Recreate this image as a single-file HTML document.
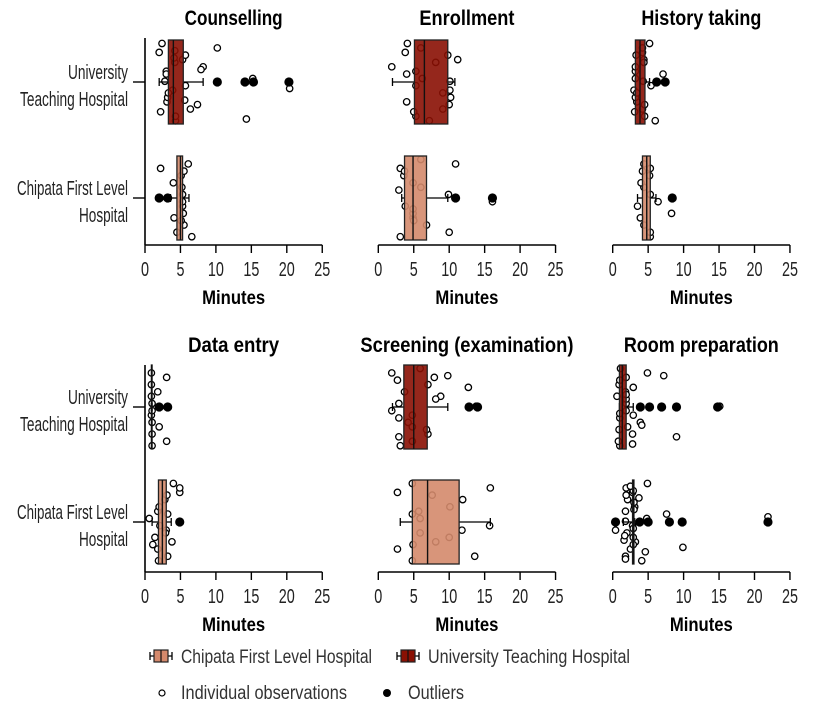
<!DOCTYPE html>
<html><head><meta charset="utf-8"><style>
body{margin:0;background:#fff}
svg{display:block;font-family:"Liberation Sans Narrow","Liberation Sans",sans-serif}
</style></head><body>
<svg id="c" width="815" height="709" viewBox="0 0 815 709"></svg>
<script>
const panelTitles=["Counselling","Enrollment","History taking","Data entry","Screening (examination)","Room preparation"];
const titleWidths=[98,95,120,91,213,155];
const groups=["University Teaching Hospital","Chipata First Level Hospital"];
const xTicks=[0,5,10,15,20,25];
// [q1, median, q3, whiskerLow, whiskerHigh] per panel: [UTH, Chipata]
const boxStats=[
 [[3.3,4.0,5.4,2.0,8.2],[4.5,5.0,5.3,3.6,6.2]],
 [[5.1,6.5,9.8,2.0,10.8],[3.7,4.9,6.8,3.3,9.8]],
 [[3.2,3.85,4.55,3.2,5.2],[4.2,4.8,5.3,3.5,6.1]],
 [[0.9,0.95,1.0,0.9,1.0],[1.9,2.45,3.0,1.0,3.7]],
 [[3.6,5.0,6.9,2.0,9.8],[4.8,6.95,11.4,3.1,15.8]],
 [[0.95,1.35,1.9,0.95,2.9],[2.8,2.9,3.0,1.5,3.1]]
];
const observations=[
 [[2,3.1,3,4.3,3.9,5.3,6.4,15.2,10.2,3.2,8.2,4.3,5.7,5.7,7.4,3,2.4,3.3,4.2,2.2,2.8,4.2,5.6,7.9,14.3,20.4,4.1],
  [2.2,4.1,5.2,6.6,5.3,5.1,5.5,5.3,6.1,5.4,4.0,4.5,5.3,5.5,5.1]],
 [[3.8,4.0,5.3,7.2,10.1,11.2,9.1,6.2,6.0,10.2,1.9,5.3,5.3,9.8,10.0,4.0,4.1,9.1,8.1,5.0,10.1],
  [3.1,4.9,6.0,3.1,3.8,3.6,6.8,9.9,10.9,4.9,4.9,10.0,16.1,3.7,5.0,2.9,6.0,4.9]],
 [[4.2,3.4,3.2,6.0,3.0,4.4,4.2,3.2,4.2,3.2,3.2,4.5,5.4,3.3,4.5,7.1,5.2,3.4,4.4,3.1,4.3],
  [5.3,3.9,4.4,5.3,3.5,5.2,4.4,5.3,4.4,8.3,4.0,5.3,6.4,4.2]],
 [[3.05,2.0,0.9,1.0,0.9,0.9,1.0,1.0,0.9,1.0,1.8,3.05,1.0],
  [4.9,3.8,1.8,1.9,3.0,2.8,1.8,0.6,4.9,1.4,2.0,3.2,2.1,3.1,1.1,3.2,4.0,2.9]],
 [[7.9,4.8,8.8,3.1,4.8,7.0,7.0,2.9,1.9,4.2,3.7,4.8,1.9,2.7,6.8,8.1,5.9,2.9,12.7,2.9,13.8,9.8],
  [2.7,8.1,5.7,4.8,11.8,11.9,2.7,5.9,15.8,10.0,10.1,13.6,15.7,7.6,4.9,4.8,4.8,5.9]],
 [[1.9,2.1,0.6,1.0,2.9,0.9,2.8,1.9,4.9,3.9,1.8,0.8,1.9,1.0,0.9,1.9,1.1,1.0,2.9,9.0,15.1,7.2,4.1,1.9,2.8,1.0],
  [2.8,3.2,1.8,4.1,0.4,2.1,2.5,4.8,1.9,2.9,3.1,1.8,2.8,1.9,2.9,7.6,4.9,2.0,3.0,4.6,1.8,2.9,1.6,3.0,1.8,2.9,3.7,9.9,21.9,2.5,1.7]]
];
const outliers=[
 [[10.2,14.1,15.3,20.3],[2.0,3.2]],
 [[],[10.9,16.1]],
 [[6.2,7.4],[8.4]],
 [[2.0,3.2],[4.9]],
 [[12.8,14.0],[]],
 [[3.9,5.2,6.9,9.0,14.8],[0.4,3.8,5.0,8.0,9.8,21.9]]
];
const NS="http://www.w3.org/2000/svg";
const svg=document.getElementById('c');
function mk(tag,attrs,parent,text){const e=document.createElementNS(NS,tag);for(const k in attrs)e.setAttribute(k,attrs[k]);if(text!==undefined)e.textContent=text;(parent||svg).appendChild(e);return e;}
const colX0=[145,378.3,612.7], pxPerMin=7.09;
const rows=[{top:38,axis:245,centers:[82,198],title:25},{top:365,axis:572,centers:[407,522],title:352}];
const fills=["#8a1003","#d4896c"];
const halfH=42;
const LA='spacingAndGlyphs';
for(let p=0;p<6;p++){
  const col=p%3,row=rows[Math.floor(p/3)];
  const x0=colX0[col];
  const xs=v=>x0+v*pxPerMin;
  const g=mk('g',{},svg);
  
  
  const t=mk('text',{x:xs(12.5),y:row.title,'text-anchor':'middle','font-size':21,'font-weight':'bold',textLength:titleWidths[p],lengthAdjust:LA},g,panelTitles[p]);
  
  
  const ax=mk('line',{x1:xs(0),x2:xs(25),y1:row.axis,y2:row.axis,stroke:'#000','stroke-width':1.6},g);
  
  
  xTicks.forEach(v=>{
    mk('line',{x1:xs(v),x2:xs(v),y1:row.axis,y2:row.axis+8,stroke:'#000','stroke-width':1.4},g);
    const s=String(v);
    const tl=mk('text',{x:xs(v),y:row.axis+31,'text-anchor':'middle','font-size':20,fill:'#222',textLength:s.length===1?8:16,lengthAdjust:LA},g,s);
    
    
  });
  const xt=mk('text',{x:xs(12.5),y:row.axis+59,'text-anchor':'middle','font-size':19,'font-weight':'bold',textLength:63,lengthAdjust:LA},g,'Minutes');
  
  
  if(col===0){
    const ya=mk('line',{x1:x0,x2:x0,y1:row.top,y2:row.axis,stroke:'#000','stroke-width':1.6},g);
    
    
    const lab=[["University","Teaching Hospital"],["Chipata First Level","Hospital"]];
    const labW=[[60,108],[111,49]];
    row.centers.forEach((cy,gi)=>{
      mk('line',{x1:x0-12,x2:x0,y1:cy,y2:cy,stroke:'#000','stroke-width':1.4},g);
      lab[gi].forEach((s,li)=>{
        const yl=mk('text',{x:128,y:cy-3+li*27,'text-anchor':'end','font-size':20,fill:'#222',textLength:labW[gi][li],lengthAdjust:LA},g,s);
        
        
      });
    });
  }
  row.centers.forEach((cy,gi)=>{
    const obs=observations[p][gi];
    obs.forEach((v,i)=>{
      const off=(((i*0.6180339+0.13)%1)-0.5)*2*(halfH-2);
      const c=mk('circle',{cx:xs(v),cy:cy+off,r:3.2,fill:'#fff',stroke:'#000','stroke-width':1.3},g);
      
      
    });
    const [q1,med,q3,wl,wh]=boxStats[p][gi];
    mk('line',{x1:xs(wl),x2:xs(q1),y1:cy,y2:cy,stroke:'#000','stroke-width':1.3},g);
    mk('line',{x1:xs(q3),x2:xs(wh),y1:cy,y2:cy,stroke:'#000','stroke-width':1.3},g);
    mk('line',{x1:xs(wl),x2:xs(wl),y1:cy-4,y2:cy+4,stroke:'#000','stroke-width':1.3},g);
    mk('line',{x1:xs(wh),x2:xs(wh),y1:cy-4,y2:cy+4,stroke:'#000','stroke-width':1.3},g);
    const b=mk('rect',{x:xs(q1),y:cy-halfH,width:Math.max(0.5,xs(q3)-xs(q1)),height:halfH*2,fill:fills[gi],'fill-opacity':0.9,stroke:'#222','stroke-width':1.3},g);
    
    
    mk('line',{x1:xs(med),x2:xs(med),y1:cy-halfH,y2:cy+halfH,stroke:'#111','stroke-width':1.4},g);
    outliers[p][gi].forEach(v=>{
      const o=mk('circle',{cx:xs(v),cy:cy,r:4.6,fill:'#000'},g);
      
      
    });
  });
}
const lg=mk('g',{},svg);


[[150,fills[1],"Chipata First Level Hospital",181,191],[397,fills[0],"University Teaching Hospital",428,202]].forEach(([x,f,s,tx,tw])=>{
  mk('line',{x1:x,x2:x+22,y1:656,y2:656,stroke:'#000','stroke-width':1.3},lg);
  mk('line',{x1:x,x2:x,y1:652,y2:660,stroke:'#000','stroke-width':1.3},lg);
  mk('line',{x1:x+22,x2:x+22,y1:652,y2:660,stroke:'#000','stroke-width':1.3},lg);
  mk('rect',{x:x+4,y:650,width:14,height:12,fill:f,stroke:'#222','stroke-width':1.2},lg);
  mk('line',{x1:x+11,x2:x+11,y1:650,y2:662,stroke:'#111','stroke-width':1.2},lg);
  const e=mk('text',{x:tx,y:663,'font-size':19,fill:'#333',textLength:tw,lengthAdjust:LA},lg,s);
  
  
});
mk('circle',{cx:162,cy:693,r:3,fill:'#fff',stroke:'#000','stroke-width':1.2},lg);
const l3=mk('text',{x:181,y:699,'font-size':19,fill:'#333',textLength:166,lengthAdjust:LA},lg,'Individual observations');


mk('circle',{cx:387,cy:693,r:4,fill:'#000'},lg);
const l4=mk('text',{x:408,y:699,'font-size':19,fill:'#333',textLength:56,lengthAdjust:LA},lg,'Outliers');


</script>
</body></html>
